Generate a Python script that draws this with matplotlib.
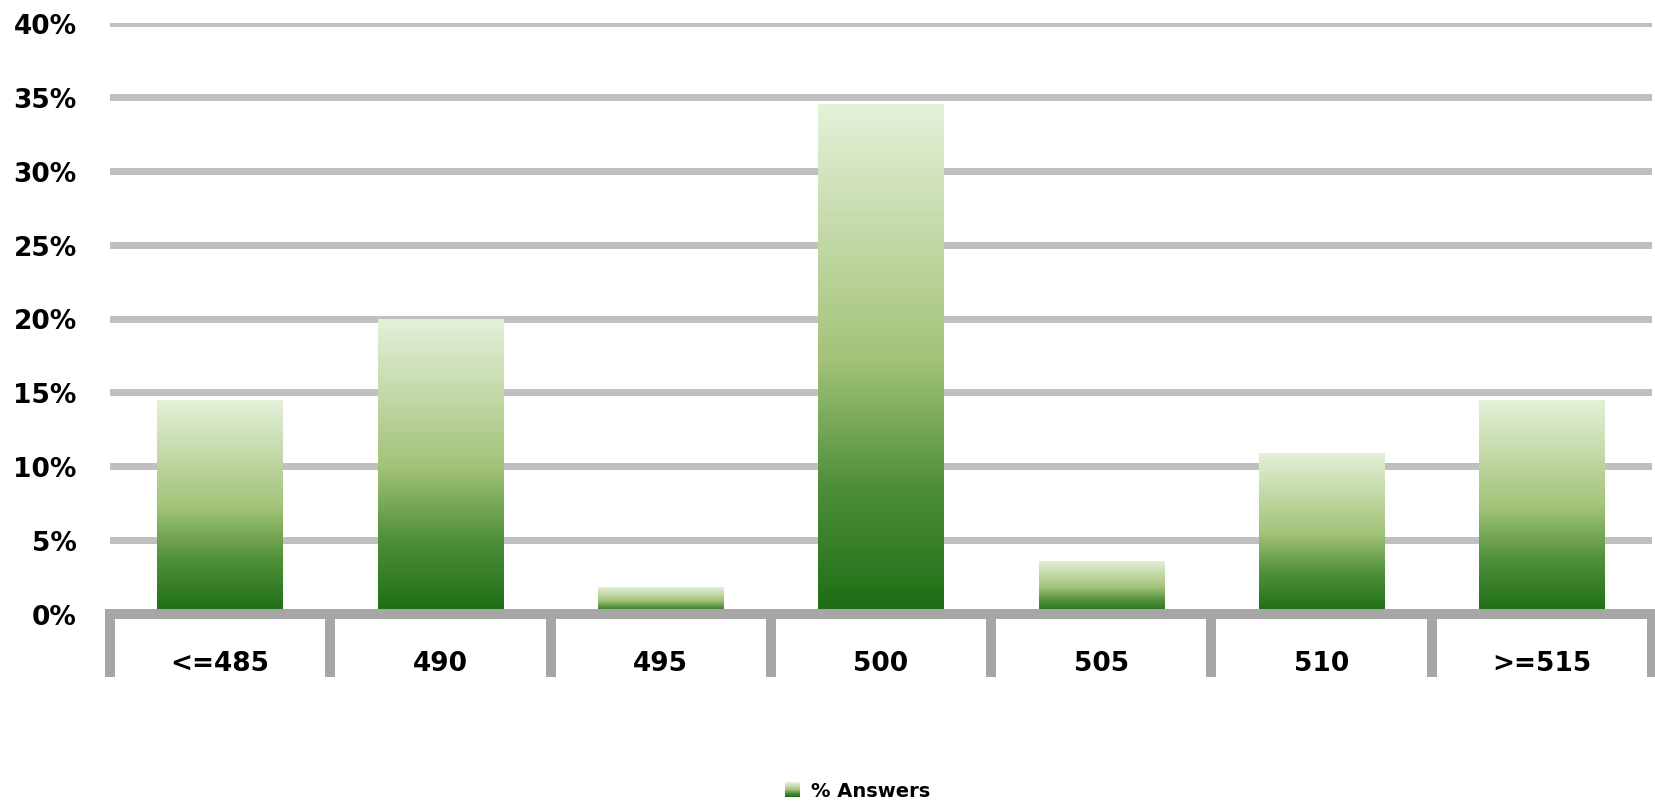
import numpy as np
import matplotlib
matplotlib.use("Agg")
import matplotlib.pyplot as plt
from matplotlib.colors import LinearSegmentedColormap
from matplotlib.patches import Rectangle
from matplotlib.legend_handler import HandlerBase
from matplotlib.ticker import FuncFormatter

categories = ["<=485", "490", "495", "500", "505", "510", ">=515"]
values = [14.5, 20.0, 1.8, 34.5, 3.6, 10.9, 14.5]
series_name = "% Answers"
yticks = [0, 5, 10, 15, 20, 25, 30, 35, 40]

plt.rcParams['font.family'] = ['DejaVu Sans']

grad = LinearSegmentedColormap.from_list(
    "g", [(0.0, "#1B6D13"), (0.25, "#4F8F3A"), (0.5, "#A3C378"), (1.0, "#E4F1D9")])

fig = plt.figure(figsize=(16.55, 8.03), dpi=100)
ax = fig.add_axes([110/1655, 1-615/803, (1652-110)/1655, (615-24)/803])

x = np.arange(len(categories))
bars = ax.bar(x, values, width=0.57, color="none", edgecolor="none", zorder=2)
gimg = np.linspace(0, 1, 256).reshape(-1, 1)
for b in bars:
    x0, y0 = b.get_x(), b.get_y()
    w, h = b.get_width(), b.get_height()
    im = ax.imshow(gimg, cmap=grad, origin="lower", aspect="auto",
                   extent=[x0, x0 + w, y0, y0 + h], zorder=2, interpolation="bilinear")
    im.set_clip_path(b)

ax.set_xlim(-0.5, len(categories) - 0.5)
ax.set_ylim(0, 40)
ax.set_yticks(yticks)
ax.yaxis.set_major_formatter(FuncFormatter(lambda v, p: f"{int(v)}%"))
ax.yaxis.grid(True, color="#BFBFBF", linewidth=5, zorder=0)
ax.set_axisbelow(True)

for s in ["top", "right", "left"]:
    ax.spines[s].set_visible(False)
ax.spines["bottom"].set_color("#A6A6A6")
ax.spines["bottom"].set_linewidth(7.2)
ax.spines["bottom"].set_zorder(3)

ax.set_xticks(x)
ax.set_xticklabels(categories)
ax.set_xticks(np.arange(-0.5, len(categories)), minor=True)
ax.tick_params(axis="x", which="major", length=0, pad=26, labelsize=19)
ax.tick_params(axis="x", which="minor", length=45, width=7.2, color="#A6A6A6", direction="out")
ax.tick_params(axis="y", length=0, pad=24, labelsize=19)
for lab in ax.get_xticklabels() + ax.get_yticklabels():
    lab.set_fontweight("bold")


class GradHandler(HandlerBase):
    def create_artists(self, legend, orig_handle, xdescent, ydescent, width, height, fontsize, trans):
        n = 20
        side = height * 1.1
        x0 = xdescent + (width - side) / 2
        y0 = -ydescent + (height - side) / 2
        arts = []
        for i in range(n):
            r = Rectangle((x0, y0 + side * i / n), side, side / n + 0.3,
                          facecolor=grad(i / (n - 1)), edgecolor="none", transform=trans)
            arts.append(r)
        return arts


handle = Rectangle((0, 0), 1, 1)
fig.legend([handle], [series_name], handler_map={Rectangle: GradHandler()},
           loc="center", bbox_to_anchor=(0.518, 0.0137), frameon=False,
           prop={"weight": "bold", "size": 14}, handlelength=0.9, handletextpad=0.5)

fig.savefig("out.png", dpi=100)
